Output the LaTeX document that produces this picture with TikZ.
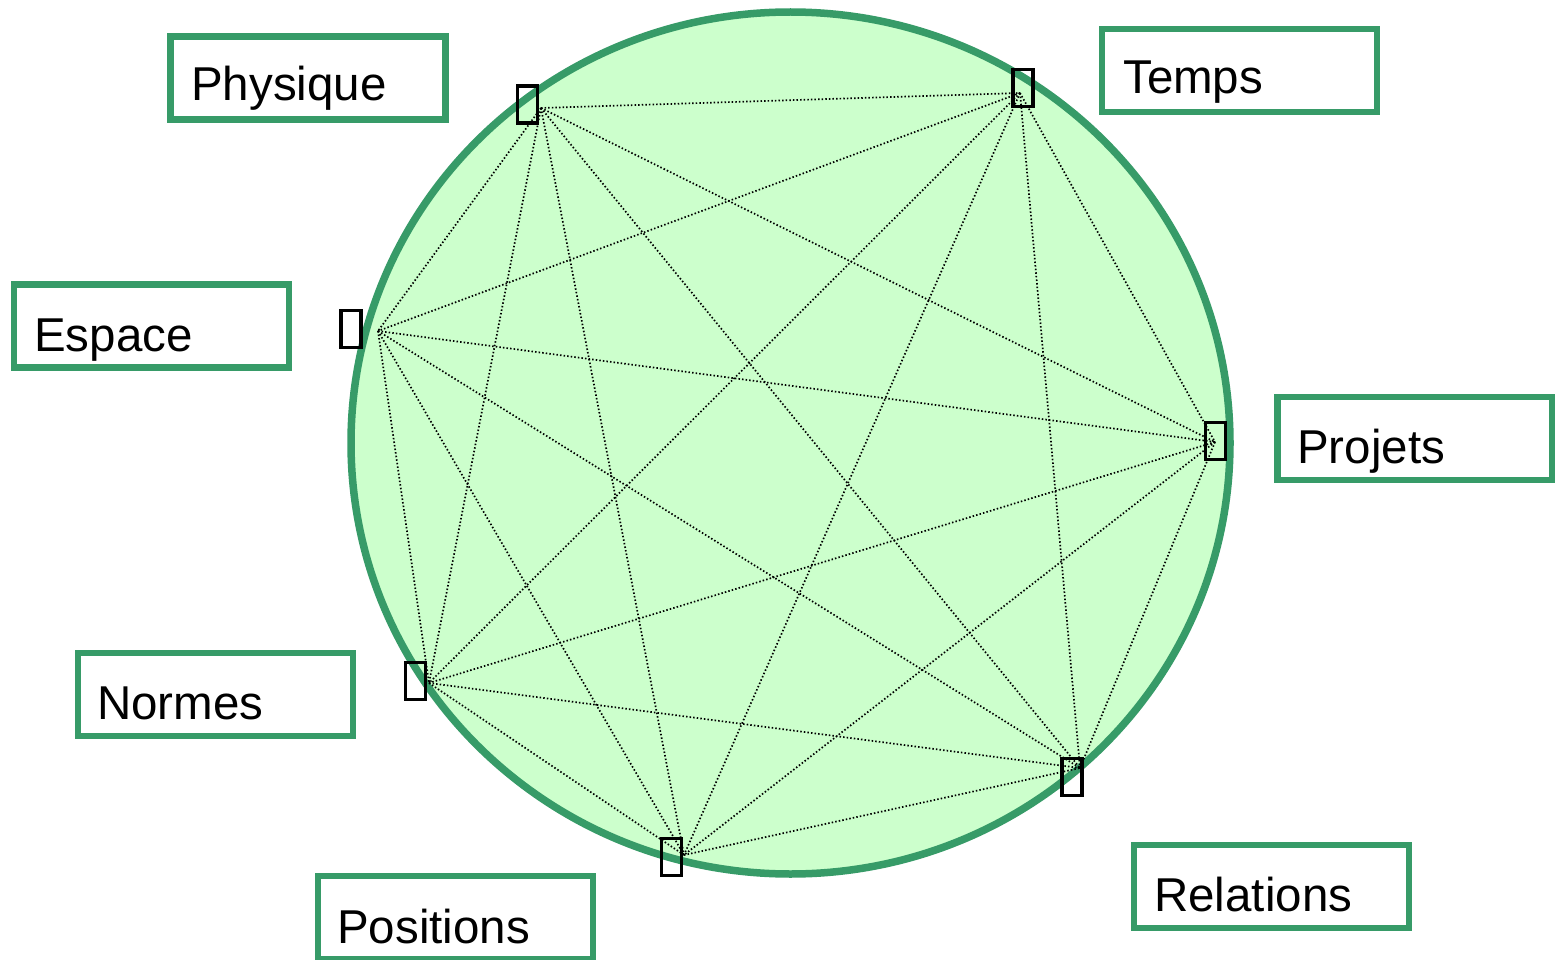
\documentclass[tikz,border=0pt]{standalone}
\usepackage{fontspec}
\setmainfont{Liberation Sans}
\definecolor{gline}{HTML}{379B68}
\definecolor{gfill}{HTML}{CCFFCC}
\tikzset{
  lbox/.style={draw=gline, line width=6.5pt, minimum width=275pt, minimum height=83pt, inner sep=0pt},
  lbl/.style={anchor=base west, inner sep=0pt, font=\fontsize{47.5}{57}\selectfont},
  tofu/.style={draw=black, line width=3.2pt, minimum width=20pt, minimum height=37pt, inner sep=0pt},
  link/.style={draw=black, line width=1.7pt, dash pattern=on 1.5pt off 2.1pt},
}
\begin{document}
\begin{tikzpicture}[x=1pt,y=-1pt]
\useasboundingbox (0,0) rectangle (1555,960);
% circle
\draw[gline, fill=gfill, line width=7.5pt] (790.5,443) ellipse [x radius=439.5, y radius=431];
% label boxes
\node[lbox] (bPhy) at (308,78) {};
\node[lbl] (tPhy) at (191,101) {Physique};
\node[lbox] (bTem) at (1239.5,70.5) {};
\node[lbl] (tTem) at (1123,94) {Temps};
\node[lbox] (bEsp) at (151.5,326) {};
\node[lbl] (tEsp) at (34,351) {Espace};
\node[lbox] (bPro) at (1415,438.5) {};
\node[lbl] (tPro) at (1297,463) {Projets};
\node[lbox] (bNor) at (215.5,694.5) {};
\node[lbl] (tNor) at (97,719) {Normes};
\node[lbox] (bPos) at (455.5,917.5) {};
\node[lbl] (tPos) at (337,943) {Positions};
\node[lbox] (bRel) at (1271.5,886.5) {};
\node[lbl] (tRel) at (1154,911) {Relations};
% connection points
\coordinate (cPhy) at (541,108);
\coordinate (cTem) at (1020,93);
\coordinate (cEsp) at (378,331);
\coordinate (cPro) at (1215,442);
\coordinate (cNor) at (429,683);
\coordinate (cPos) at (684,855);
\coordinate (cRel) at (1080,768);
% complete graph
\foreach \a/\b in {Phy/Tem,Phy/Esp,Phy/Pro,Phy/Nor,Phy/Pos,Phy/Rel,
                   Tem/Esp,Tem/Pro,Tem/Nor,Tem/Pos,Tem/Rel,
                   Esp/Pro,Esp/Nor,Esp/Pos,Esp/Rel,
                   Pro/Nor,Pro/Pos,Pro/Rel,
                   Nor/Pos,Nor/Rel,
                   Pos/Rel}
  \draw[link] (c\a) -- (c\b);
% glyph boxes
\node[tofu] (gPhy) at (527.5,104.5) {};
\node[tofu] (gTem) at (1023,88) {};
\node[tofu] (gEsp) at (351,329) {};
\node[tofu] (gPro) at (1215.5,441) {};
\node[tofu] (gNor) at (415.5,681) {};
\node[tofu] (gPos) at (671.5,857) {};
\node[tofu] (gRel) at (1072,777) {};
\end{tikzpicture}
\end{document}
